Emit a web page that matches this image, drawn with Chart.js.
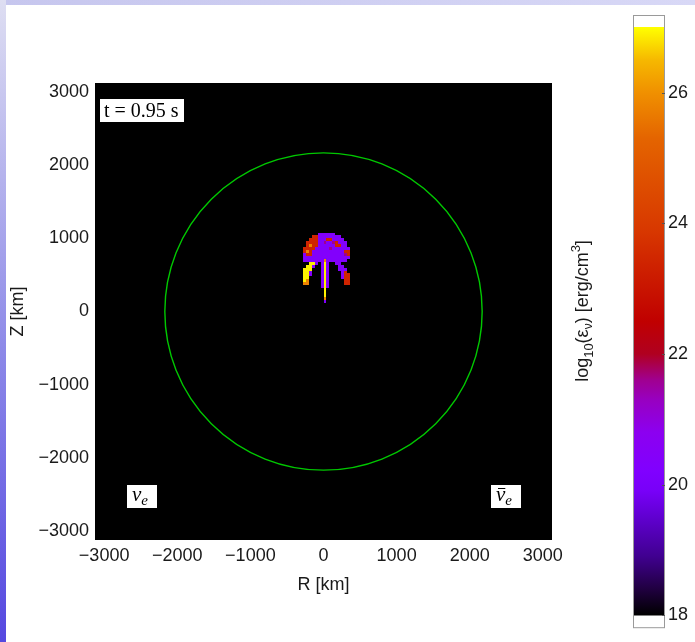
<!DOCTYPE html>
<html lang="en">
<head>
<meta charset="UTF-8">
<title>Neutrino emissivity, t = 0.95 s</title>
<script src="https://cdn.jsdelivr.net/npm/chart.js"></script>
<style>
  html, body { margin: 0; padding: 0; background: #fff; }
  body { width: 695px; height: 642px; position: relative; overflow: hidden; }
  canvas { position: absolute; top: 0; }
  #main { left: 0; }
  #cbar { left: 560px; }
  #topStrip { position: absolute; left: 0; top: 0; width: 695px; height: 5px;
              background: linear-gradient(to right, #c6c6ee, #d8d8f6); }
  #leftStrip { position: absolute; left: 0; top: 0; width: 6px; height: 642px;
               background: linear-gradient(to bottom, #dedef2, #8c88e8 55%, #5548e0); }
</style>
</head>
<body>
<canvas id="main" width="600" height="642"></canvas>
<canvas id="cbar" width="135" height="642"></canvas>
<div id="topStrip"></div>
<div id="leftStrip"></div>

<script>
// axes (km)
const TICKS_KM = [-3000, -2000, -1000, 0, 1000, 2000, 3000];
const TICK_LABELS = ['\u22123000', '\u22122000', '\u22121000', '0', '1000', '2000', '3000'];
const AXIS_MIN = -3125;
const AXIS_MAX = 3125;

// green circle (shock radius, km)
const SHOCK_RADIUS_KM = 2170;

// colour bar
const CB_TICKS = [18, 20, 22, 24, 26];
const CB_MIN = 17.8;
const CB_MAX = 27.19;
const CMAP_VALUES = [18.0, 18.4, 18.9, 19.5, 19.9, 20.2, 20.8, 21.3, 21.6, 22.0, 22.5, 23.9, 25.3, 26.0, 26.5, 27.0];
const CMAP_COLORS = ['#000000', '#200040', '#400090', '#6000d0', '#7800f8', '#8000ff', '#8c00f0', '#9800c0',
                     '#a00090', '#b00020', '#c00000', '#d83800', '#e46400', '#f09000', '#f6b800', '#ffff00'];

// plume map: rows from the top, 40 km cells, log10 emissivity coded by letter
const CELL_KM = 40;
const GRID_R0 = -320;   // left edge of first column
const GRID_Z0 = 1120;   // top edge of first row
const LEVEL_KEYS = ['p', 'm', 'r', 'o', 'y'];
const LEVEL_VALUES = [20.3, 21.6, 23.4, 25.8, 26.9];
const PLUME_ROWS = [
  '..................',
  '......pppppp......',
  '....rrpppppppp....',
  '...rrrppprrpppp...',
  '..rrrrppmppmrppp..',
  '..rorrpppppprrpp..',
  '.rrrrpppppmpppppp.',
  '.rorppppppppppprr.',
  '.prrpppppppppppmr.',
  '.pppppppppppppppp.',
  '.pppppppoppppppp..',
  '...yyp.pyp..pp....',
  '..yyp..pyp...pp...',
  '.yyy...pyp...ppp..',
  '.yyp...pyp....pr..',
  '.yyp...pyp....prr.',
  '.yy....pyp....prr.',
  '.yo....pyp.....rr.',
  '.oo....pyp.....rr.',
  '.......pyp........',
  '........y.........',
  '........y.........',
  '........y.........',
  '........o.........',
  '........p.........'
];

const TIME_LABEL = 't = 0.95 s';

// build cell list from the rows
const cells = [];
PLUME_ROWS.forEach((row, j) => {
  for (let i = 0; i < row.length; i++) {
    const k = LEVEL_KEYS.indexOf(row[i]);
    if (k < 0) continue;
    cells.push({
      x: GRID_R0 + (i + 0.5) * CELL_KM,
      y: GRID_Z0 - (j + 0.5) * CELL_KM,
      v: LEVEL_VALUES[k]
    });
  }
});

function hexToRgb(h) {
  return [parseInt(h.slice(1, 3), 16), parseInt(h.slice(3, 5), 16), parseInt(h.slice(5, 7), 16)];
}

function colorFor(v) {
  if (v <= CMAP_VALUES[0]) return CMAP_COLORS[0];
  for (let k = 1; k < CMAP_VALUES.length; k++) {
    if (v <= CMAP_VALUES[k]) {
      const t = (v - CMAP_VALUES[k - 1]) / (CMAP_VALUES[k] - CMAP_VALUES[k - 1]);
      const a = hexToRgb(CMAP_COLORS[k - 1]);
      const b = hexToRgb(CMAP_COLORS[k]);
      const c = a.map((q, n) => Math.round(q + (b[n] - q) * t));
      return 'rgb(' + c.join(',') + ')';
    }
  }
  return CMAP_COLORS[CMAP_COLORS.length - 1];
}

const SANS = '"Liberation Sans", Arial, sans-serif';
const SERIF = '"Liberation Serif", "Times New Roman", serif';

// black panel behind everything
const panelPlugin = {
  id: 'panel',
  beforeDraw(chart) {
    const { ctx, chartArea: a } = chart;
    ctx.save();
    ctx.fillStyle = '#000';
    ctx.fillRect(a.left, a.top, a.right - a.left, a.bottom - a.top);
    ctx.restore();
  },
  afterDatasetsDraw(chart) {
    const { ctx, scales } = chart;
    const xs = scales.x, ys = scales.y;
    ctx.save();

    // plume cells
    cells.forEach(c => {
      const x0 = Math.round(xs.getPixelForValue(c.x - CELL_KM / 2));
      const x1 = Math.round(xs.getPixelForValue(c.x + CELL_KM / 2));
      const y0 = Math.round(ys.getPixelForValue(c.y + CELL_KM / 2));
      const y1 = Math.round(ys.getPixelForValue(c.y - CELL_KM / 2));
      ctx.fillStyle = colorFor(c.v);
      ctx.fillRect(x0, y0, x1 - x0, y1 - y0);
    });

    // shock circle
    const cx = xs.getPixelForValue(0), cy = ys.getPixelForValue(0);
    const rx = xs.getPixelForValue(SHOCK_RADIUS_KM) - cx;
    const ry = cy - ys.getPixelForValue(SHOCK_RADIUS_KM);
    ctx.strokeStyle = '#00c800';
    ctx.lineWidth = 1.4;
    ctx.beginPath();
    ctx.ellipse(cx, cy, rx, ry, 0, 0, Math.PI * 2);
    ctx.stroke();

    // time label
    ctx.font = '20px ' + SERIF;
    const tw = ctx.measureText(TIME_LABEL).width;
    const tl = Math.round(xs.getPixelForValue(-3060));
    const tt = Math.round(ys.getPixelForValue(2904));
    ctx.fillStyle = '#fff';
    ctx.fillRect(tl, tt, Math.round(tw + 9), 23);
    ctx.fillStyle = '#000';
    ctx.textBaseline = 'alphabetic';
    ctx.fillText(TIME_LABEL, tl + 4, tt + 18);

    // neutrino flavour labels
    drawNu(ctx, xs.getPixelForValue(-2480), ys.getPixelForValue(-2530), false);
    drawNu(ctx, xs.getPixelForValue(2490), ys.getPixelForValue(-2530), true);
    ctx.restore();
  }
};

function drawNu(ctx, cx, cy, bar) {
  const w = 30, h = 23;
  const left = Math.round(cx - w / 2), top = Math.round(cy - h / 2);
  ctx.fillStyle = '#fff';
  ctx.fillRect(left, top, w, h);
  ctx.fillStyle = '#000';
  ctx.font = 'italic 21px ' + SERIF;
  const nuW = ctx.measureText('\u03bd').width;
  const x = left + 5, base = top + 16;
  ctx.fillText('\u03bd', x, base);
  ctx.font = 'italic 15px ' + SERIF;
  ctx.fillText('e', x + nuW, base + 4);
  if (bar) {
    ctx.strokeStyle = '#000';
    ctx.lineWidth = 1;
    ctx.beginPath();
    ctx.moveTo(x + 2, top + 3.5);
    ctx.lineTo(x + nuW, top + 3.5);
    ctx.stroke();
  }
}

const axisTicks = {
  autoSkip: false,
  maxRotation: 0,
  color: '#1a1a1a',
  font: { family: SANS, size: 18 },
  callback: (value) => TICK_LABELS[TICKS_KM.indexOf(value)]
};

new Chart(document.getElementById('main'), {
  type: 'scatter',
  data: {
    datasets: [{ data: cells, pointRadius: 0, showLine: false }]
  },
  options: {
    responsive: false,
    animation: false,
    devicePixelRatio: 1,
    layout: { padding: { left: 0, top: 83, right: 48, bottom: 32 } },
    plugins: { legend: { display: false }, tooltip: { enabled: false } },
    scales: {
      x: {
        type: 'linear',
        min: AXIS_MIN, max: AXIS_MAX,
        afterBuildTicks: (s) => { s.ticks = TICKS_KM.map(v => ({ value: v })); },
        afterFit: (s) => { s.height = 70; },
        ticks: Object.assign({ padding: 5 }, axisTicks),
        grid: { display: false, drawTicks: false },
        border: { display: false },
        title: { display: true, text: 'R [km]', color: '#1a1a1a',
                 font: { family: SANS, size: 18 }, padding: { top: 0, bottom: 14 } }
      },
      y: {
        type: 'linear',
        min: AXIS_MIN, max: AXIS_MAX,
        afterBuildTicks: (s) => { s.ticks = TICKS_KM.map(v => ({ value: v })); },
        afterFit: (s) => { s.width = 95; },
        ticks: Object.assign({ padding: 6 }, axisTicks),
        grid: { display: false, drawTicks: false },
        border: { display: false },
        title: { display: true, text: 'Z [km]', color: '#1a1a1a',
                 font: { family: SANS, size: 18 }, padding: { top: 7, bottom: 0 } }
      }
    }
  },
  plugins: [panelPlugin]
});

// colour bar
const cbarPlugin = {
  id: 'cbarFrame',
  afterDraw(chart) {
    const { ctx, chartArea: a, scales } = chart;
    ctx.save();
    ctx.strokeStyle = '#9a9a9a';
    ctx.lineWidth = 1;
    ctx.strokeRect(a.left + 0.5, a.top + 0.5, a.right - a.left - 1, a.bottom - a.top - 1);
    ctx.strokeStyle = '#555';
    CB_TICKS.forEach(v => {
      const y = Math.round(scales.y.getPixelForValue(v)) + 0.5;
      ctx.beginPath();
      ctx.moveTo(a.right - 3, y);
      ctx.lineTo(a.right, y);
      ctx.stroke();
    });

    // rotated title: log10(e_nu) [erg/cm^3]
    const parts = [
      { t: 'log', s: 18, dy: 0 },
      { t: '10', s: 13, dy: 5 },
      { t: '(\u03b5', s: 18, dy: 0 },
      { t: '\u03bd', s: 12, dy: 4 },
      { t: ') [erg/cm', s: 18, dy: 0 },
      { t: '3', s: 13, dy: -8 },
      { t: ']', s: 18, dy: 0 }
    ];
    let total = 0;
    parts.forEach(p => { ctx.font = p.s + 'px ' + SANS; p.w = ctx.measureText(p.t).width; total += p.w; });
    ctx.translate(22, 311);
    ctx.rotate(-Math.PI / 2);
    ctx.fillStyle = '#1a1a1a';
    ctx.textBaseline = 'alphabetic';
    let x = -total / 2;
    parts.forEach(p => {
      ctx.font = p.s + 'px ' + SANS;
      ctx.fillText(p.t, x, 6 + p.dy);
      x += p.w;
    });
    ctx.restore();
  }
};

new Chart(document.getElementById('cbar'), {
  type: 'bar',
  data: {
    labels: [''],
    datasets: [{
      data: [[CMAP_VALUES[0], CMAP_VALUES[CMAP_VALUES.length - 1]]],
      barPercentage: 1,
      categoryPercentage: 1,
      borderWidth: 0,
      backgroundColor: (context) => {
        const chart = context.chart;
        const ys = chart.scales.y;
        if (!chart.chartArea || !ys) return '#000';
        const y0 = ys.getPixelForValue(CMAP_VALUES[0]);
        const y1 = ys.getPixelForValue(CMAP_VALUES[CMAP_VALUES.length - 1]);
        const g = chart.ctx.createLinearGradient(0, y0, 0, y1);
        const span = CMAP_VALUES[CMAP_VALUES.length - 1] - CMAP_VALUES[0];
        CMAP_VALUES.forEach((v, k) => g.addColorStop((v - CMAP_VALUES[0]) / span, CMAP_COLORS[k]));
        return g;
      }
    }]
  },
  options: {
    responsive: false,
    animation: false,
    devicePixelRatio: 1,
    layout: { padding: { left: 73, top: 15, right: 0, bottom: 12 } },
    plugins: { legend: { display: false }, tooltip: { enabled: false } },
    scales: {
      x: { display: false },
      y: {
        position: 'right',
        min: CB_MIN, max: CB_MAX,
        afterBuildTicks: (s) => { s.ticks = CB_TICKS.map(v => ({ value: v })); },
        afterFit: (s) => { s.width = 30; },
        ticks: { color: '#1a1a1a', font: { family: SANS, size: 18 }, padding: 3 },
        grid: { display: false, drawTicks: false },
        border: { display: false }
      }
    }
  },
  plugins: [cbarPlugin]
});
</script>
</body>
</html>
